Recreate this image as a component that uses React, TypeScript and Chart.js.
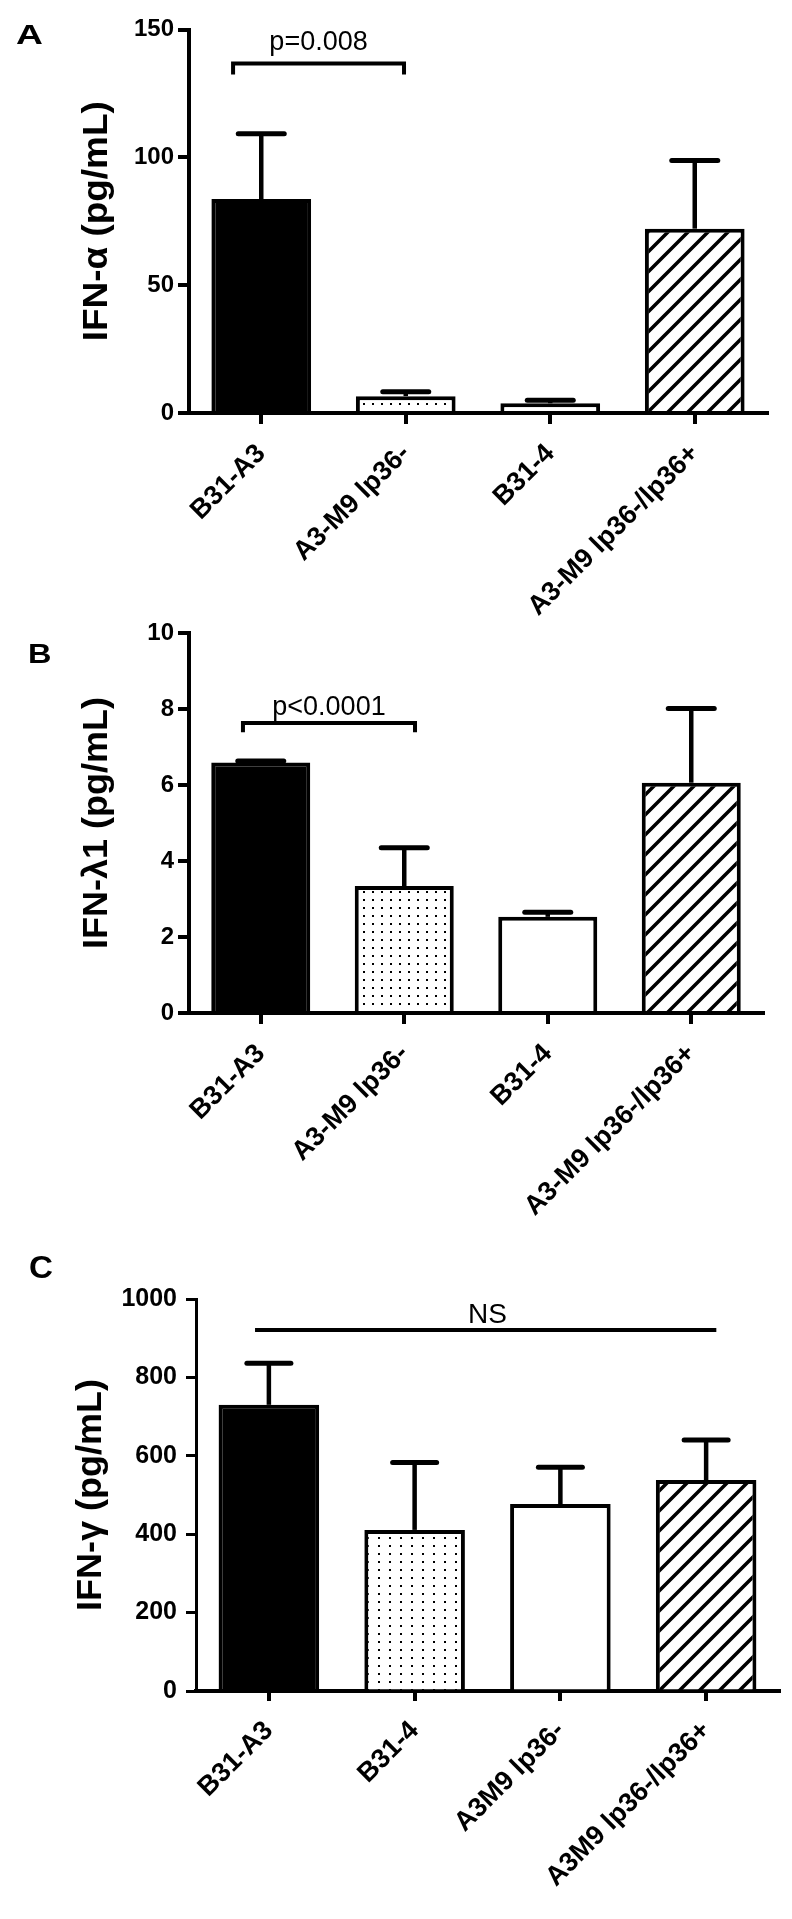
import React, { useEffect, useRef } from "react";
import { Chart, registerables } from "chart.js";

Chart.register(...registerables);

// ---------- data ----------
const categoriesAB = ["B31-A3", "A3-M9 lp36-", "B31-4", "A3-M9 lp36-/lp36+"];
const categoriesC = ["B31-A3", "B31-4", "A3M9 lp36-", "A3M9 lp36-/lp36+"];

const ifnAlphaMeans = [83.7, 6.6, 3.8, 72.1];
const ifnAlphaErrors = [25.5, 1.7, 1.2, 26.7];

const ifnLambdaMeans = [6.59, 3.34, 2.53, 6.06];
const ifnLambdaErrors = [0.04, 1.01, 0.12, 1.95];

const ifnGammaMeans = [730, 411, 477, 538];
const ifnGammaErrors = [106, 172, 94, 102];

const yTicksA = [0, 50, 100, 150];
const yTicksB = [0, 2, 4, 6, 8, 10];
const yTicksC = [0, 200, 400, 600, 800, 1000];

const FONT = 'Arial, "Liberation Sans", Helvetica, sans-serif';

// ---------- patterns ----------
function dotPattern(w: number, h: number, d: number) {
  const c = document.createElement("canvas");
  c.width = w;
  c.height = h;
  const g = c.getContext("2d")!;
  g.fillStyle = "#fff";
  g.fillRect(0, 0, w, h);
  g.fillStyle = "#000";
  g.fillRect(Math.floor(w / 2 - d / 2), Math.floor(h / 2 - d / 2), d, d);
  return g.createPattern(c, "repeat")!;
}
function hatchPattern(s: number, lw: number) {
  const c = document.createElement("canvas");
  c.width = s;
  c.height = s;
  const g = c.getContext("2d")!;
  g.fillStyle = "#fff";
  g.fillRect(0, 0, s, s);
  g.strokeStyle = "#000";
  g.lineWidth = lw;
  g.beginPath();
  g.moveTo(-s, s);
  g.lineTo(s, -s);
  g.moveTo(0, s);
  g.lineTo(s, 0);
  g.moveTo(0, 2 * s);
  g.lineTo(2 * s, 0);
  g.stroke();
  return g.createPattern(c, "repeat")!;
}

// ---------- plugins ----------
function errorBarPlugin(errors: number[], capHalf: number) {
  return {
    id: "errorBars",
    afterDatasetsDraw(chart: any) {
      const meta = chart.getDatasetMeta(0);
      const ys = chart.scales.y;
      const vals = chart.data.datasets[0].data as number[];
      const ctx = chart.ctx as CanvasRenderingContext2D;
      ctx.save();
      ctx.strokeStyle = "#000";
      meta.data.forEach((bar: any, i: number) => {
        const v = vals[i];
        const yTop = ys.getPixelForValue(v + errors[i]);
        const yBase = ys.getPixelForValue(v);
        ctx.lineCap = "butt";
        ctx.lineWidth = 4.5;
        ctx.beginPath();
        ctx.moveTo(bar.x, yBase);
        ctx.lineTo(bar.x, yTop);
        ctx.stroke();
        ctx.lineCap = "round";
        ctx.lineWidth = 5;
        ctx.beginPath();
        ctx.moveTo(bar.x - capHalf, yTop);
        ctx.lineTo(bar.x + capHalf, yTop);
        ctx.stroke();
      });
      ctx.restore();
    },
  };
}

interface Annot {
  letter: string;
  letterX: number;
  letterY: number;
  letterSize: number;
  letterStretch: number;
  title: string;
  titleSize: number;
  titleBaselineX: number;
  titleLength: number;
  from: number;
  to: number;
  lineVal: number;
  legVal: number | null;
  text: string;
  textIndex: number | null;
  textVal: number;
  textSize: number;
}

function annotationPlugin(a: Annot) {
  return {
    id: "annot",
    afterDraw(chart: any) {
      const ctx = chart.ctx as CanvasRenderingContext2D;
      const xs = chart.scales.x;
      const ys = chart.scales.y;
      const area = chart.chartArea;
      ctx.save();
      ctx.fillStyle = "#000";
      ctx.strokeStyle = "#000";

      // panel letter
      ctx.save();
      ctx.font = `bold ${a.letterSize}px ${FONT}`;
      ctx.textAlign = "left";
      ctx.textBaseline = "alphabetic";
      ctx.translate(a.letterX, a.letterY);
      ctx.scale(a.letterStretch, 1);
      ctx.fillText(a.letter, 0, 0);
      ctx.restore();

      // y-axis title (rotated)
      ctx.save();
      ctx.font = `bold ${a.titleSize}px ${FONT}`;
      ctx.textAlign = "center";
      ctx.textBaseline = "alphabetic";
      const w = ctx.measureText(a.title).width;
      ctx.translate(a.titleBaselineX, (area.top + area.bottom) / 2);
      ctx.rotate(-Math.PI / 2);
      ctx.scale(a.titleLength / w, 1);
      ctx.fillText(a.title, 0, 0);
      ctx.restore();

      // significance bracket / line
      const x0 = xs.getPixelForValue(a.from);
      const x1 = xs.getPixelForValue(a.to);
      const yl = ys.getPixelForValue(a.lineVal);
      ctx.lineWidth = 4;
      ctx.lineCap = "butt";
      ctx.lineJoin = "miter";
      ctx.beginPath();
      if (a.legVal !== null) {
        const yg = ys.getPixelForValue(a.legVal);
        ctx.moveTo(x0, yg);
        ctx.lineTo(x0, yl);
        ctx.lineTo(x1, yl);
        ctx.lineTo(x1, yg);
      } else {
        ctx.moveTo(x0, yl);
        ctx.lineTo(x1, yl);
      }
      ctx.stroke();

      ctx.font = `normal ${a.textSize}px ${FONT}`;
      ctx.textAlign = "center";
      ctx.textBaseline = "alphabetic";
      const tx = a.textIndex === null ? (x0 + x1) / 2 : xs.getPixelForValue(a.textIndex);
      ctx.fillText(a.text, tx, ys.getPixelForValue(a.textVal));
      ctx.restore();
    },
  };
}

// ---------- chart factory ----------
interface PanelCfg {
  labels: string[];
  values: number[];
  errors: number[];
  yTicks: number[];
  fills: any[];
  padRight: number;
  padTop: number;
  yWidth: number;
  xHeight: number;
  tickFont: number;
  labelFont: number;
  xLabelPad: number;
  yTickLen: number;
  xTickLen: number;
  yLabelPad: number;
  yLineW: number;
  capHalf: number;
  annot: Annot;
}

function makeChart(canvas: HTMLCanvasElement, p: PanelCfg) {
  const yMin = p.yTicks[0];
  const yMax = p.yTicks[p.yTicks.length - 1];
  return new Chart(canvas, {
    type: "bar",
    data: {
      labels: p.labels,
      datasets: [
        {
          data: p.values,
          backgroundColor: p.fills,
          borderColor: "#000",
          borderWidth: 4,
          borderSkipped: "start",
          barPercentage: 0.69,
          categoryPercentage: 1,
        },
      ],
    },
    options: {
      responsive: false,
      animation: false,
      devicePixelRatio: 1,
      layout: { padding: { left: 0, right: p.padRight, top: p.padTop, bottom: 0 } },
      plugins: { legend: { display: false }, tooltip: { enabled: false } },
      scales: {
        x: {
          type: "category",
          offset: true,
          grid: {
            display: true,
            drawOnChartArea: false,
            drawTicks: true,
            tickLength: p.xTickLen,
            lineWidth: 4,
            color: "#000",
            offset: false,
          },
          border: { display: true, color: "#000", width: 4 },
          ticks: {
            autoSkip: false,
            maxRotation: 45,
            minRotation: 45,
            padding: p.xLabelPad,
            color: "#000",
            font: { family: FONT, size: p.labelFont, weight: "bold" },
          },
          afterFit: (s: any) => {
            s.height = p.xHeight;
          },
        },
        y: {
          min: yMin,
          max: yMax,
          afterBuildTicks: (s: any) => {
            s.ticks = p.yTicks.map((v) => ({ value: v }));
          },
          grid: {
            display: true,
            drawOnChartArea: false,
            drawTicks: true,
            tickLength: p.yTickLen,
            lineWidth: p.yLineW,
            color: "#000",
          },
          border: { display: true, color: "#000", width: p.yLineW },
          ticks: {
            padding: p.yLabelPad,
            color: "#000",
            font: { family: FONT, size: p.tickFont, weight: "bold" },
            callback: (v: any) => String(v),
          },
          title: { display: false },
          afterFit: (s: any) => {
            s.width = p.yWidth;
          },
        },
      },
    } as any,
    plugins: [errorBarPlugin(p.errors, p.capHalf), annotationPlugin(p.annot)],
  });
}

export default function App() {
  const refA = useRef<HTMLCanvasElement>(null);
  const refB = useRef<HTMLCanvasElement>(null);
  const refC = useRef<HTMLCanvasElement>(null);

  useEffect(() => {
    const fillsAB = ["#000", dotPattern(9, 8, 2), "#fff", hatchPattern(20, 3.5)];
    const fillsC = ["#000", dotPattern(11, 8, 2), "#fff", hatchPattern(20, 3.5)];

    const a = makeChart(refA.current!, {
      labels: categoriesAB,
      values: ifnAlphaMeans,
      errors: ifnAlphaErrors,
      yTicks: yTicksA,
      fills: fillsAB,
      padRight: 25,
      padTop: 29.5,
      yWidth: 189,
      xHeight: 227,
      tickFont: 24,
      labelFont: 27,
      xLabelPad: 14,
      yTickLen: 11,
      xTickLen: 11,
      yLabelPad: 4,
      yLineW: 4,
      capHalf: 23,
      annot: {
        letter: "A",
        letterX: 16,
        letterY: 44,
        letterSize: 28,
        letterStretch: 1.33,
        title: "IFN-α (pg/mL)",
        titleSize: 35,
        titleBaselineX: 107,
        titleLength: 240,
        from: -0.195,
        to: 0.988,
        lineVal: 136.7,
        legVal: 132.4,
        text: "p=0.008",
        textIndex: null,
        textVal: 141.8,
        textSize: 27,
      },
    });

    const b = makeChart(refB.current!, {
      labels: categoriesAB,
      values: ifnLambdaMeans,
      errors: ifnLambdaErrors,
      yTicks: yTicksB,
      fills: fillsAB,
      padRight: 29,
      padTop: 33,
      yWidth: 189,
      xHeight: 217,
      tickFont: 24,
      labelFont: 27,
      xLabelPad: 14,
      yTickLen: 11,
      xTickLen: 11,
      yLabelPad: 4,
      yLineW: 4,
      capHalf: 23,
      annot: {
        letter: "B",
        letterX: 28,
        letterY: 63,
        letterSize: 28,
        letterStretch: 1.16,
        title: "IFN-λ1 (pg/mL)",
        titleSize: 35,
        titleBaselineX: 107,
        titleLength: 252,
        from: -0.124,
        to: 1.075,
        lineVal: 7.63,
        legVal: 7.39,
        text: "p<0.0001",
        textIndex: null,
        textVal: 7.84,
        textSize: 27,
      },
    });

    const c = makeChart(refC.current!, {
      labels: categoriesC,
      values: ifnGammaMeans,
      errors: ifnGammaErrors,
      yTicks: yTicksC,
      fills: fillsC,
      padRight: 13,
      padTop: 69,
      yWidth: 196,
      xHeight: 228,
      tickFont: 25,
      labelFont: 27,
      xLabelPad: 14,
      yTickLen: 10,
      xTickLen: 10,
      yLabelPad: 9,
      yLineW: 3,
      capHalf: 22,
      annot: {
        letter: "C",
        letterX: 29,
        letterY: 48,
        letterSize: 31,
        letterStretch: 1.07,
        title: "IFN-γ (pg/mL)",
        titleSize: 35,
        titleBaselineX: 101,
        titleLength: 232,
        from: -0.095,
        to: 3.07,
        lineVal: 921,
        legVal: null,
        text: "NS",
        textIndex: 1.5,
        textVal: 939,
        textSize: 28,
      },
    });

    return () => {
      a.destroy();
      b.destroy();
      c.destroy();
    };
  }, []);

  return (
    <div
      style={{
        position: "absolute",
        left: 0,
        top: 0,
        width: 792,
        height: 1919,
        overflow: "hidden",
        background: "#fff",
      }}
    >
      <canvas
        ref={refA}
        width={792}
        height={640}
        style={{ position: "absolute", left: 0, top: 0, width: 792, height: 640 }}
      />
      <canvas
        ref={refB}
        width={792}
        height={630}
        style={{ position: "absolute", left: 0, top: 600, width: 792, height: 630 }}
      />
      <canvas
        ref={refC}
        width={792}
        height={689}
        style={{ position: "absolute", left: 0, top: 1230, width: 792, height: 689 }}
      />
    </div>
  );
}
